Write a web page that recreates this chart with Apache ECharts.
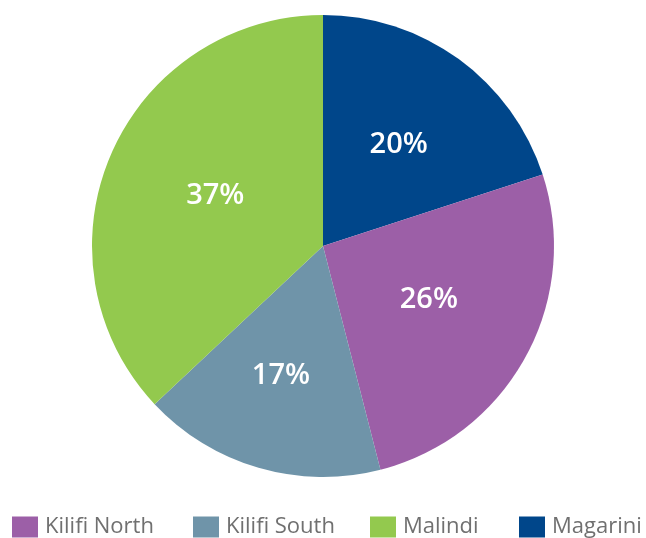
<!DOCTYPE html>
<html>
<head>
<meta charset="utf-8">
<script src="https://cdn.jsdelivr.net/npm/echarts@6/dist/echarts.min.js"></script>
<style>html,body{margin:0;padding:0;background:#fff}#c{width:646px;height:538px}</style>
</head>
<body>
<div id="c"></div>
<script>
const categories = ['Magarini', 'Kilifi North', 'Kilifi South', 'Malindi'];
const values = [20, 26, 17, 37];
const colors = ['#00468a', '#9c5fa7', '#6f94a9', '#93c94e'];
const labelOffsets = [[6, -5], [2, -3], [-9, 16], [1, -3]];
const legendOrder = ['Kilifi North', 'Kilifi South', 'Malindi', 'Magarini'];
const legendLeft = [12, 193, 370, 519];

const chart = echarts.init(document.getElementById('c'), null, {renderer: 'canvas'});
const legends = legendOrder.map((n, i) => ({
  data: [n],
  left: legendLeft[i],
  top: 516,
  itemWidth: 26,
  itemHeight: 21,
  itemGap: 0,
  icon: 'rect',
  selectedMode: false,
  textStyle: {fontFamily: 'Open Sans', fontSize: 22, color: '#707070', padding: [0, 0, 0, 2]},
  padding: 0
}));
chart.setOption({
  animation: false,
  legend: legends,
  series: [{
    type: 'pie',
    center: [323, 246],
    radius: [0, 231],
    startAngle: 90,
    clockwise: true,
    data: categories.map((c, i) => ({
      name: c, value: values[i],
      itemStyle: {color: colors[i]},
      label: {offset: labelOffsets[i]}
    })),
    label: {
      position: 'inside',
      formatter: '{c}%',
      color: '#fff',
      fontFamily: 'Open Sans',
      fontSize: 29,
      fontWeight: 600
    },
    labelLine: {show: false},
    itemStyle: {borderWidth: 0}
  }]
});
</script>
</body>
</html>
